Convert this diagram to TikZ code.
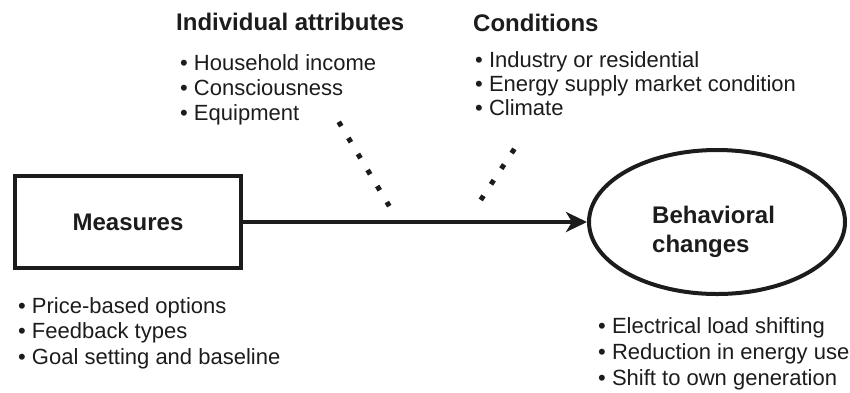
\documentclass[tikz,border=0pt]{standalone}
\usepackage{fontspec}
\setmainfont{Liberation Sans}
\usetikzlibrary{shapes.geometric}
\usetikzlibrary{arrows.meta}

\definecolor{ink}{HTML}{1C1C1C}

\begin{document}
\begin{tikzpicture}[x=1pt, y=-1pt,
                    every node/.style={inner sep=0pt, text=ink},
                    head/.style={anchor=base west, font=\fontsize{24}{29}\selectfont\bfseries},
                    item/.style={anchor=base west, font=\fontsize{22}{25}\selectfont},
                    box/.style={draw=ink, line width=4pt, minimum width=226pt, minimum height=92pt,
                                font=\fontsize{24}{29}\selectfont\bfseries},
                    oval/.style={ellipse, draw=ink, line width=4pt, minimum width=256pt, minimum height=144pt},
                    link/.style={draw=ink, line width=4.5pt, -{Stealth[length=21pt, width=20pt, inset=6pt]}},
                    dots/.style={draw=ink, line width=5pt, dash pattern=on 5pt off 13.7pt,
                                 shorten <=-2.5pt, shorten >=-2.5pt}
                ]
                \useasboundingbox (0,0) rectangle (850,392);

                % main chain
                \node[box] (meas) at (128,222) {Measures};
                \node[oval] (behav) at (717,222) {};
                % base of a two-line node sits on its last line
                \node[head, align=left] (behavtxt) at (652,252) {Behavioral\\changes};
                \draw[link] (meas) -- (behav);

                % moderating factors
                \node[head] (attrhead) at (176,30) {Individual attributes};
                \node[head] (condhead) at (473,31) {Conditions};
                \foreach \txt [count=\i] in {Household income, Consciousness, Equipment}
                    \node[item] (attr\i) at (180, 45+25*\i) {• \txt};
                \foreach \txt [count=\i] in {Industry or residential, Energy supply market condition, Climate}
                    \node[item] (cond\i) at (475, 43+24*\i) {• \txt};

                \coordinate (attrfrom) at (340,124);
                \coordinate (attrto) at (388,204);
                \coordinate (condfrom) at (513,151);
                \coordinate (condto) at (482,198);
                \draw[dots] (attrfrom) -- (attrto);
                \draw[dots] (condfrom) -- (condto);

                % examples under the boxes
                \foreach \txt [count=\i] in {Price-based options, Feedback types, Goal setting and baseline}
                    \node[item] (meas\i) at (18, 287.5+25.5*\i) {• \txt};
                \foreach \txt [count=\i] in {Electrical load shifting, Reduction in energy use, Shift to own generation}
                    \node[item] (behav\i) at (598, 307+26*\i) {• \txt};
            \end{tikzpicture}
\end{document}
